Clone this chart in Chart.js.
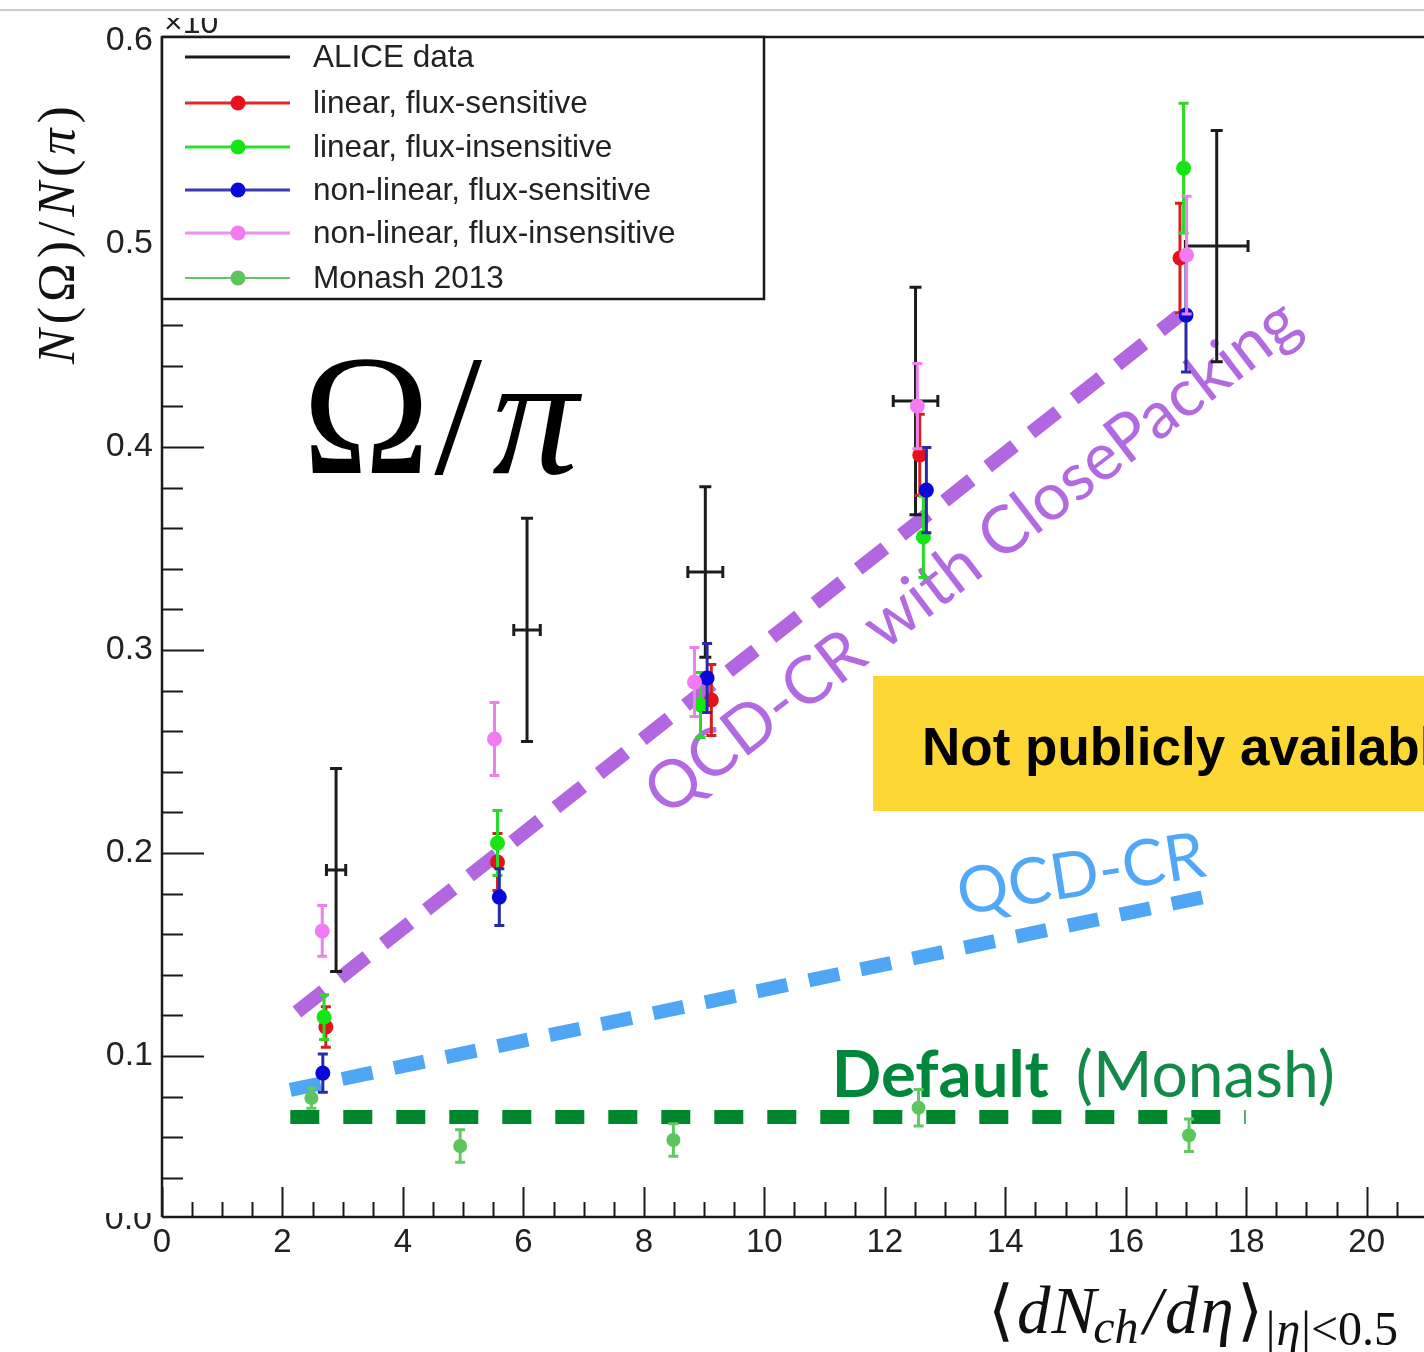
<!DOCTYPE html>
<html>
<head>
<meta charset="utf-8">
<script src="https://cdn.jsdelivr.net/npm/chart.js@4.4.1/dist/chart.umd.min.js"></script>
<style>
  html, body { margin: 0; padding: 0; background: #fff; overflow: hidden; }
  #wrap { position: relative; width: 1424px; height: 1352px; overflow: hidden; }
  canvas { position: absolute; left: 0; top: 0; }
</style>
</head>
<body>
<div id="wrap"><canvas id="c" width="1426" height="1352"></canvas></div>
<script>
// ---- axis tick labels ----
const xTickValues = [0, 2, 4, 6, 8, 10, 12, 14, 16, 18, 20];
const yTickValues = [0.1, 0.2, 0.3, 0.4, 0.5, 0.6];

// ---- ALICE measurement (x and y uncertainties) ----
const aliceX    = [2.89, 6.06, 9.02, 12.51, 17.51];
const aliceXErr = [0.16, 0.22, 0.29, 0.37, 0.52];
const aliceY    = [0.1916, 0.3099, 0.3384, 0.4227, 0.4990];
const aliceYErr = [0.050, 0.055, 0.042, 0.056, 0.057];

// ---- PYTHIA rope / close-packing variants ----
const linFluxSensX = [2.72, 5.57, 9.12, 12.58, 16.90];
const linFluxSensY = [0.1143, 0.1956, 0.2754, 0.3961, 0.4931];
const linFluxSensE = [0.010, 0.014, 0.0175, 0.020, 0.027];

const linFluxInsX = [2.69, 5.57, 8.94, 12.64, 16.96];
const linFluxInsY = [0.1192, 0.2049, 0.2729, 0.3557, 0.5374];
const linFluxInsE = [0.011, 0.016, 0.016, 0.020, 0.032];

const nonLinFluxSensX = [2.67, 5.60, 9.05, 12.69, 17.00];
const nonLinFluxSensY = [0.0916, 0.1783, 0.2862, 0.3788, 0.4650];
const nonLinFluxSensE = [0.0094, 0.014, 0.017, 0.021, 0.028];

const nonLinFluxInsX = [2.66, 5.52, 8.84, 12.54, 17.01];
const nonLinFluxInsY = [0.1616, 0.2562, 0.2842, 0.4202, 0.4946];
const nonLinFluxInsE = [0.0125, 0.018, 0.017, 0.021, 0.029];

const monashX = [2.48, 4.95, 8.49, 12.56, 17.05];
const monashY = [0.0793, 0.0557, 0.0586, 0.0745, 0.0610];
const monashE = [0.005, 0.008, 0.008, 0.009, 0.008];

// ---- trend guides drawn over the plot ----
const closePackingLineX = [2.24, 16.88];
const closePackingLineY = [0.1217, 0.4645];
const qcdcrLineX = [2.13, 17.61];
const qcdcrLineY = [0.0833, 0.1803];
const defaultLineX = [2.13, 17.99];
const defaultLineY = [0.0700, 0.0700];

const pts = (xs, ys) => xs.map((x, i) => ({ x: x, y: ys[i] }));
const rad = d => d * Math.PI / 180;

function series(label, xs, ys, errs, marker, errColor, lineColor, order, r) {
  return {
    label: label, data: pts(xs, ys), yErr: errs, errColor: errColor, capHalf: 5,
    legendLine: lineColor, legendMarker: marker, legendWidth: 3, inLegend: true,
    pointRadius: r, pointHoverRadius: r, pointBackgroundColor: marker,
    pointBorderColor: marker, pointBorderWidth: 0, showLine: false, order: order
  };
}

function guide(xs, ys, color, dash) {
  return {
    label: '', data: pts(xs, ys), showLine: true, borderColor: color, borderWidth: 14,
    borderDash: dash, borderCapStyle: 'butt', pointRadius: 0, pointHoverRadius: 0,
    fill: false, order: 20
  };
}

const datasets = [
  {
    label: 'ALICE data', data: pts(aliceX, aliceY), yErr: aliceYErr, xErr: aliceXErr,
    errColor: '#1c1c1c', capHalf: 6, legendLine: '#1c1c1c', legendMarker: null, legendWidth: 3,
    inLegend: true, pointRadius: 0, pointHoverRadius: 0, showLine: false, order: 10
  },
  series('linear, flux-sensitive', linFluxSensX, linFluxSensY, linFluxSensE, '#e8101a', '#d42020', '#e02828', 5, 7.5),
  series('linear, flux-insensitive', linFluxInsX, linFluxInsY, linFluxInsE, '#14e614', '#2ada2a', '#30de30', 4, 7.5),
  series('non-linear, flux-sensitive', nonLinFluxSensX, nonLinFluxSensY, nonLinFluxSensE, '#0808d8', '#2a2aa6', '#3c3cb0', 3, 7.5),
  series('non-linear, flux-insensitive', nonLinFluxInsX, nonLinFluxInsY, nonLinFluxInsE, '#f27af2', '#ea82ea', '#ef90ef', 2, 7.5),
  series('Monash 2013', monashX, monashY, monashE, '#5cc65c', '#62c862', '#62c862', 6, 7),
  guide(closePackingLineX, closePackingLineY, '#b266e0', [34, 21]),
  guide(qcdcrLineX, qcdcrLineY, '#4ea6f4', [31, 22]),
  guide(defaultLineX, defaultLineY, '#00862c', [29, 24])
];
datasets[5].legendWidth = 2;

// error bars are painted just before each series so they sit under its markers
const errorBars = {
  id: 'errorBars',
  beforeDatasetDraw(chart, args) {
    const ds = chart.data.datasets[args.index];
    if (!ds.yErr) return;
    const sx = chart.scales.x, sy = chart.scales.y, ctx = chart.ctx;
    ctx.save();
    ctx.strokeStyle = ds.errColor;
    ctx.lineWidth = 3;
    ds.data.forEach((p, i) => {
      const px = sx.getPixelForValue(p.x), py = sy.getPixelForValue(p.y);
      const t = sy.getPixelForValue(p.y + ds.yErr[i]);
      const b = sy.getPixelForValue(p.y - ds.yErr[i]);
      const c = ds.capHalf;
      ctx.beginPath();
      ctx.moveTo(px, t); ctx.lineTo(px, b);
      ctx.moveTo(px - c, t); ctx.lineTo(px + c, t);
      ctx.moveTo(px - c, b); ctx.lineTo(px + c, b);
      if (ds.xErr) {
        const l = sx.getPixelForValue(p.x - ds.xErr[i]);
        const r = sx.getPixelForValue(p.x + ds.xErr[i]);
        ctx.moveTo(l, py); ctx.lineTo(r, py);
        ctx.moveTo(l, py - c); ctx.lineTo(l, py + c);
        ctx.moveTo(r, py - c); ctx.lineTo(r, py + c);
      }
      ctx.stroke();
    });
    ctx.restore();
  }
};

function fitSize(ctx, text, weight, family, target) {
  ctx.font = weight + ' 100px ' + family;
  return 100 * target / ctx.measureText(text).width;
}

// slide annotations living under the data points
const annotations = {
  id: 'annotations',
  beforeDatasetsDraw(chart) {
    const ctx = chart.ctx, sx = chart.scales.x, sy = chart.scales.y;
    ctx.save();
    ctx.textBaseline = 'alphabetic';
    ctx.textAlign = 'left';

    // big ratio symbol
    let x = sx.getPixelForValue(2.33), y = sy.getPixelForValue(0.3872);
    ctx.fillStyle = '#000';
    ctx.font = '172px "Liberation Serif"';
    ctx.fillText('\u03A9', x, y);
    x += ctx.measureText('\u03A9').width + 4;
    ctx.fillText('/', x, y);
    x += ctx.measureText('/').width + 10;
    ctx.font = 'italic 172px "Liberation Serif"';
    ctx.fillText('\u03C0', x, y);

    // close-packing label
    const cpText = 'QCD-CR with ClosePacking';
    let s = fitSize(ctx, cpText, '', 'Lato', 803);
    ctx.save();
    ctx.translate(sx.getPixelForValue(8.37), sy.getPixelForValue(0.2172));
    ctx.rotate(-rad(37.4));
    ctx.fillStyle = '#b26ae2';
    ctx.font = s.toFixed(1) + 'px Lato';
    ctx.fillText(cpText, 0, 0);
    ctx.restore();

    // colour-reconnection label
    s = fitSize(ctx, 'QCD-CR', '', 'Lato', 250);
    ctx.save();
    ctx.translate(sx.getPixelForValue(13.26), sy.getPixelForValue(0.1695));
    ctx.rotate(-rad(9));
    ctx.fillStyle = '#52a8f6';
    ctx.font = s.toFixed(1) + 'px Lato';
    ctx.fillText('QCD-CR', 0, 0);
    ctx.restore();

    // default tune label
    x = sx.getPixelForValue(11.12); y = sy.getPixelForValue(0.0798);
    s = fitSize(ctx, 'Default', 'bold', 'Lato', 217);
    ctx.font = 'bold ' + s.toFixed(1) + 'px Lato';
    ctx.fillStyle = '#00873a';
    ctx.fillText('Default', x, y);
    s = fitSize(ctx, '(Monash)', '', 'Lato', 259);
    ctx.font = s.toFixed(1) + 'px Lato';
    ctx.fillStyle = '#13894a';
    ctx.fillText('(Monash)', sx.getPixelForValue(15.17), y);
    ctx.restore();
  }
};

function drawPieces(ctx, pieces, x, y, gap) {
  pieces.forEach(p => {
    ctx.font = p.font;
    ctx.fillText(p.t, x, y + (p.dy || 0));
    x += ctx.measureText(p.t).width + (p.gap !== undefined ? p.gap : gap);
  });
  return x;
}

// frame, inward ticks, legend, titles and the overlay box
const frame = {
  id: 'frame',
  afterDraw(chart) {
    const ctx = chart.ctx, sx = chart.scales.x, sy = chart.scales.y, a = chart.chartArea;
    const rightEdge = chart.width;
    ctx.save();

    // thin rule across the top of the page
    ctx.strokeStyle = '#cdcdcd';
    ctx.lineWidth = 2;
    ctx.beginPath(); ctx.moveTo(0, 10); ctx.lineTo(rightEdge, 10); ctx.stroke();

    // inward tick marks
    ctx.strokeStyle = '#1a1a1a';
    ctx.lineWidth = 2;
    ctx.beginPath();
    for (let k = 0; k <= 42; k++) {
      const v = k * 0.5;
      if (v > sx.max) break;
      const px = Math.round(sx.getPixelForValue(v)) + 0.5;
      const len = (k % 4 === 0) ? 30 : 15;
      ctx.moveTo(px, a.bottom); ctx.lineTo(px, a.bottom - len);
    }
    for (let k = 2; k <= 30; k++) {
      const v = k * 0.02;
      const py = Math.round(sy.getPixelForValue(v)) + 0.5;
      const len = (k % 5 === 0) ? 42 : 21;
      ctx.moveTo(a.left, py); ctx.lineTo(a.left + len, py);
    }
    ctx.stroke();

    // axis frame
    ctx.lineWidth = 2.5;
    ctx.beginPath();
    ctx.moveTo(a.left, a.top); ctx.lineTo(rightEdge, a.top);
    ctx.moveTo(a.left, a.top); ctx.lineTo(a.left, a.bottom);
    ctx.moveTo(a.left, a.bottom); ctx.lineTo(rightEdge, a.bottom);
    ctx.stroke();

    // partially hidden exponent and lowest label
    ctx.fillStyle = '#222';
    ctx.textAlign = 'left';
    ctx.textBaseline = 'alphabetic';
    ctx.save();
    ctx.beginPath(); ctx.rect(150, 18, 120, 18); ctx.clip();
    ctx.font = '32px "Liberation Sans"';
    ctx.fillText('\u00D710', 164, 33);
    ctx.restore();
    ctx.save();
    ctx.beginPath(); ctx.rect(95, 1213, 60, 30); ctx.clip();
    ctx.font = '34px "Liberation Sans"';
    ctx.textAlign = 'right';
    ctx.fillText('0.0', 152, 1229);
    ctx.restore();

    // legend
    const lx = a.left, ly = a.top, lw = 602, lh = 262;
    ctx.fillStyle = '#fff';
    ctx.fillRect(lx, ly, lw, lh);
    ctx.strokeStyle = '#1a1a1a';
    ctx.lineWidth = 2.5;
    ctx.strokeRect(lx, ly, lw, lh);
    const rows = [57, 103, 147, 190, 233, 278];
    const entries = chart.data.datasets.filter(d => d.inLegend);
    const legendOrder = ['ALICE data', 'linear, flux-sensitive', 'linear, flux-insensitive',
      'non-linear, flux-sensitive', 'non-linear, flux-insensitive', 'Monash 2013'];
    ctx.font = '31.5px "Liberation Sans"';
    ctx.textBaseline = 'middle';
    ctx.textAlign = 'left';
    legendOrder.forEach((name, i) => {
      const d = entries.find(e => e.label === name);
      const y = rows[i];
      ctx.strokeStyle = d.legendLine;
      ctx.lineWidth = d.legendWidth;
      ctx.beginPath(); ctx.moveTo(185, y); ctx.lineTo(290, y); ctx.stroke();
      if (d.legendMarker) {
        ctx.fillStyle = d.legendMarker;
        ctx.beginPath(); ctx.arc(238, y, 7.5, 0, Math.PI * 2); ctx.fill();
      }
      ctx.fillStyle = '#222';
      ctx.fillText(d.label, 313, y + 1);
    });

    // y axis title
    ctx.save();
    ctx.translate(74, 364);
    ctx.rotate(-Math.PI / 2);
    ctx.fillStyle = '#111';
    ctx.textBaseline = 'alphabetic';
    const yi = 'italic 52px "Liberation Serif"', yr = '52px "Liberation Serif"';
    drawPieces(ctx, [
      { t: 'N', font: yi }, { t: '(', font: yr }, { t: '\u03A9', font: yr }, { t: ')', font: yr },
      { t: '/', font: yr }, { t: 'N', font: yi }, { t: '(', font: yr }, { t: '\u03C0', font: yi },
      { t: ')', font: yr }
    ], 0, 0, 5);
    ctx.restore();

    // x axis title
    ctx.fillStyle = '#111';
    ctx.textBaseline = 'alphabetic';
    const xi = 'italic 67px "Liberation Serif"', xr = '67px "Liberation Serif"';
    const si = 'italic 48px "Liberation Serif"', sr = '48px "Liberation Serif"';
    drawPieces(ctx, [
      { t: '\u27E8', font: xr, gap: 3 }, { t: 'd', font: xi, gap: 1 }, { t: 'N', font: xi, gap: -3 },
      { t: 'ch', font: si, dy: 10, gap: 5 }, { t: '/', font: xi, gap: 3 }, { t: 'd', font: xi, gap: 2 },
      { t: '\u03B7', font: xi, gap: 3 }, { t: '\u27E9', font: xr, gap: 3 },
      { t: '|', font: sr, dy: 12, gap: 1 }, { t: '\u03B7', font: si, dy: 12, gap: 1 },
      { t: '|<0.5', font: sr, dy: 12, gap: 0 }
    ], 988, 1333, 0);

    // overlay notice box
    ctx.fillStyle = '#fdd733';
    ctx.fillRect(873, 676, 560, 135);
    ctx.fillStyle = '#000';
    ctx.font = 'bold 53px "Liberation Sans"';
    ctx.textBaseline = 'alphabetic';
    ctx.textAlign = 'left';
    ctx.fillText('Not publicly available', 922, 765);

    ctx.restore();
  }
};

Chart.defaults.font.family = '"Liberation Sans", Arial, sans-serif';

new Chart(document.getElementById('c'), {
  type: 'scatter',
  data: { datasets: datasets },
  options: {
    responsive: false,
    animation: false,
    devicePixelRatio: 1,
    layout: { padding: { top: 37, left: 0, right: 0, bottom: 0 } },
    plugins: { legend: { display: false }, tooltip: { enabled: false } },
    scales: {
      x: {
        type: 'linear', min: 0, max: 20.86,
        grid: { display: false }, border: { display: false },
        ticks: {
          autoSkip: false, maxRotation: 0, minRotation: 0, padding: -2, color: '#222',
          font: { size: 33 }, callback: v => String(v)
        },
        afterBuildTicks: s => { s.ticks = xTickValues.map(v => ({ value: v })); },
        afterFit: s => { s.height = 135; }
      },
      y: {
        type: 'linear', min: 0.0207, max: 0.602,
        grid: { display: false }, border: { display: false },
        ticks: {
          padding: 1, color: '#222', font: { size: 34 },
          callback: v => Number(v).toFixed(1)
        },
        afterBuildTicks: s => { s.ticks = yTickValues.map(v => ({ value: v })); },
        afterFit: s => { s.width = 162; }
      }
    }
  },
  plugins: [errorBars, annotations, frame]
});
</script>
</body>
</html>
